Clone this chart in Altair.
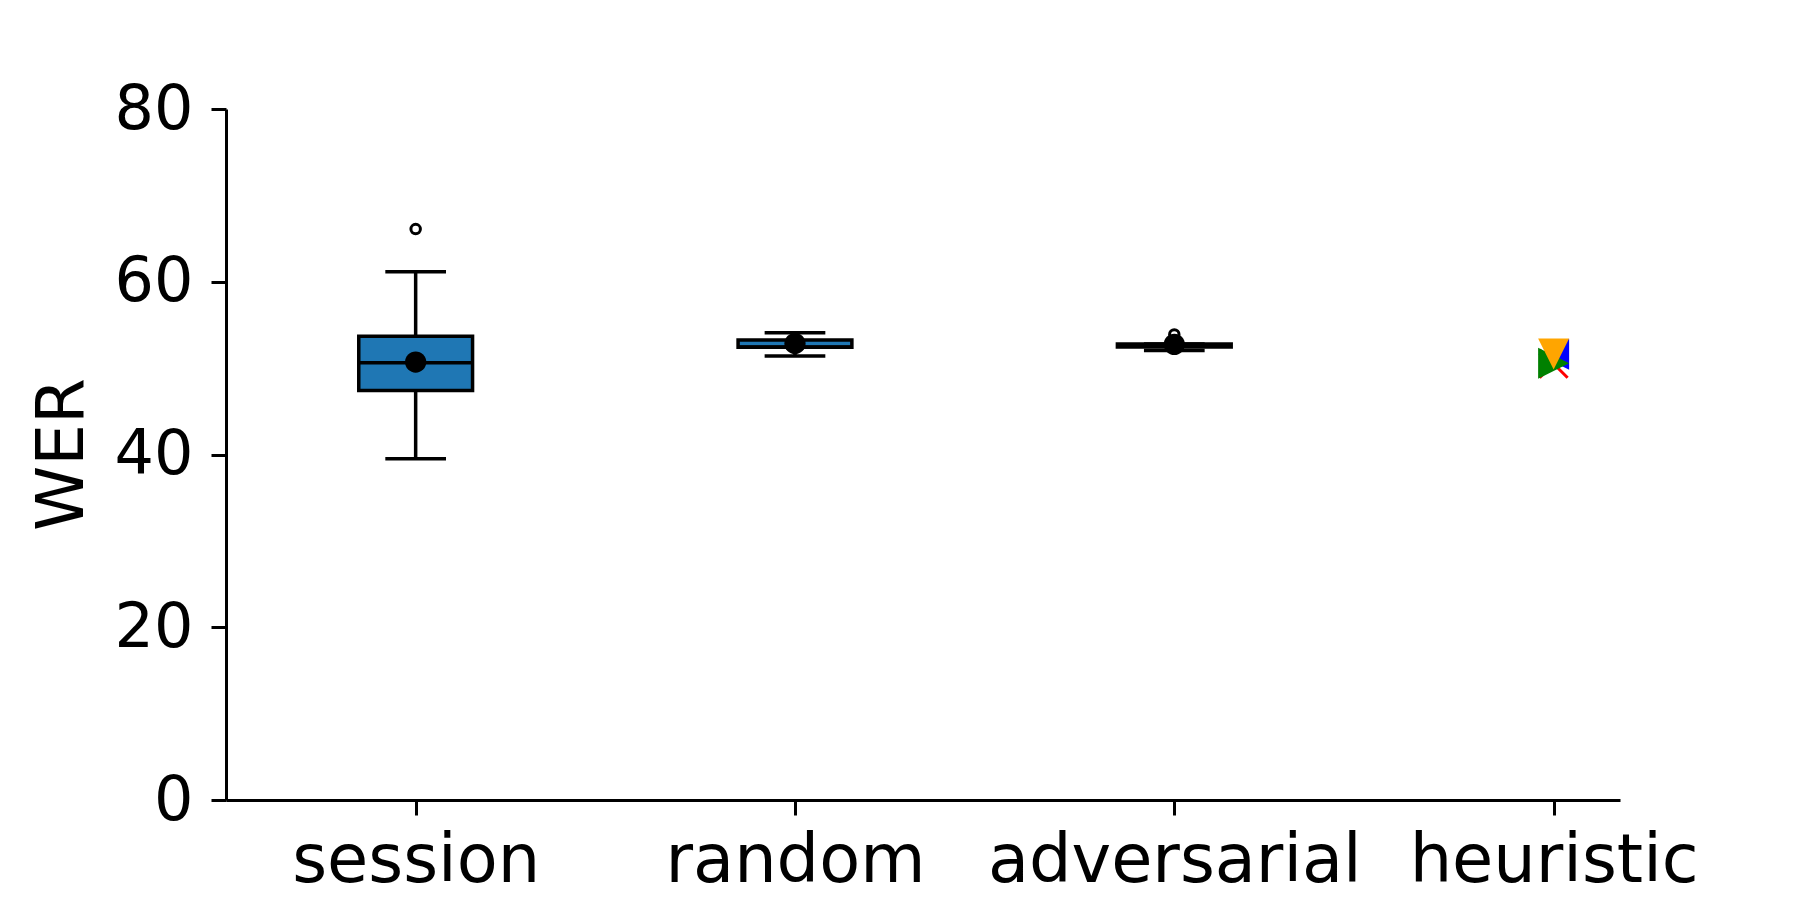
import altair as alt
import pandas as pd

# ---- data ----
categories = ["session", "random", "adversarial", "heuristic"]

box_cats = ["session", "random", "adversarial"]
q1 = [47.4, 52.41, 52.45]
q3 = [53.7, 53.26, 52.8]
medians = [50.63, 52.45, 52.6]
whislo = [39.5, 51.4, 52.05]
whishi = [61.15, 54.1, 52.8]
means = [50.7, 52.85, 52.75]

flier_cats = ["session", "adversarial"]
flier_vals = [66.1, 53.9]

heur_series = ["red", "blue", "green", "orange"]
heur_vals = [50.5, 51.6, 50.56, 51.63]

y_ticks = [0, 20, 40, 60, 80]

# ---- styles ----
FONT = "DejaVu Sans"
BOX_HALF = 0.15
CAP_HALF = 0.08
LW = 3.5
marker_shapes = {
    "red": "M-1,-1L1,1M-1,1L1,-1",
    "blue": "M-1,0L1,-1L1,1Z",
    "orange": "M-1,-1L1,-1L0,1Z",
    "green": "M1,0L-1,-1L-1,1Z",
}
marker_sizes = {"red": 784, "blue": 961, "orange": 961, "green": 961}

def pos(c):
    return categories.index(c) + 1

box_df = pd.DataFrame({
    "cat": box_cats,
    "pos": [pos(c) for c in box_cats],
    "q1": q1, "q3": q3, "med": medians,
    "lo": whislo, "hi": whishi, "mean": means,
})
flier_df = pd.DataFrame({"cat": flier_cats, "pos": [pos(c) for c in flier_cats], "val": flier_vals})
heur_df = pd.DataFrame({
    "series": heur_series,
    "pos": [pos("heuristic")] * len(heur_series),
    "val": heur_vals,
})

label_list = "[" + ",".join("'" + c + "'" for c in categories) + "]"
xscale = alt.Scale(domain=[0.5, 4.175], nice=False, zero=False)
yscale = alt.Scale(domain=[0, 80], nice=False, zero=True)

x_axis = alt.Axis(
    values=[1, 2, 3, 4], labelExpr=label_list + "[datum.value - 1]",
    title=None, grid=False, labelFontSize=67, labelPadding=13, labelLimit=2000,
    tickSize=15, labelAngle=0, labelBaseline="top", labelOverlap=False,
)
y_axis = alt.Axis(
    values=y_ticks, title="WER", grid=False, labelFontSize=62,
    tickSize=15, labelPadding=18, labelBaseline="alphabetic", labelOffset=19,
    titleFontSize=66, titleFontWeight="normal", titleAngle=270,
    titleBaseline="alphabetic", titleAlign="center", titleX=-144, titleY=345,
)

base = alt.Chart(box_df)

whisker = base.mark_rule(color="black", strokeWidth=LW).encode(
    x=alt.X("pos:Q", scale=xscale, axis=x_axis),
    y=alt.Y("lo:Q", scale=yscale, axis=y_axis),
    y2="hi:Q",
)

calc = dict(xl=f"datum.pos - {CAP_HALF}", xr=f"datum.pos + {CAP_HALF}")
cap_lo = base.transform_calculate(**calc).mark_rule(color="black", strokeWidth=LW).encode(
    x=alt.X("xl:Q", scale=xscale), x2="xr:Q", y=alt.Y("lo:Q", scale=yscale)
)
cap_hi = base.transform_calculate(**calc).mark_rule(color="black", strokeWidth=LW).encode(
    x=alt.X("xl:Q", scale=xscale), x2="xr:Q", y=alt.Y("hi:Q", scale=yscale)
)

bcalc = dict(xl=f"datum.pos - {BOX_HALF}", xr=f"datum.pos + {BOX_HALF}")
box = base.transform_calculate(**bcalc).mark_rect(
    fill="#1f77b4", stroke="black", strokeWidth=LW
).encode(
    x=alt.X("xl:Q", scale=xscale), x2="xr:Q",
    y=alt.Y("q1:Q", scale=yscale), y2="q3:Q",
)

median = base.transform_calculate(**bcalc).mark_rule(color="black", strokeWidth=LW).encode(
    x=alt.X("xl:Q", scale=xscale), x2="xr:Q", y=alt.Y("med:Q", scale=yscale)
)

fliers = alt.Chart(flier_df).mark_point(
    shape="circle", filled=False, color="black", size=90, strokeWidth=3, opacity=1
).encode(x=alt.X("pos:Q", scale=xscale), y=alt.Y("val:Q", scale=yscale))

mean_pts = base.mark_point(
    shape="circle", filled=True, color="black", size=452, opacity=1
).encode(x=alt.X("pos:Q", scale=xscale), y=alt.Y("mean:Q", scale=yscale))

heur_layers = []
for s in heur_series:
    if s != "red":
        mk = alt.Chart(heur_df).transform_filter(alt.datum.series == s).mark_point(
            shape=marker_shapes[s], filled=True, fill=s, strokeWidth=0,
            size=marker_sizes[s], opacity=1,
        )
    else:
        mk = alt.Chart(heur_df).transform_filter(alt.datum.series == s).mark_point(
            shape=marker_shapes[s], filled=False, stroke=s, strokeWidth=3,
            size=marker_sizes[s], opacity=1,
        )
    heur_layers.append(mk.encode(x=alt.X("pos:Q", scale=xscale), y=alt.Y("val:Q", scale=yscale)))

chart = alt.layer(
    whisker, cap_lo, cap_hi, box, median, fliers, mean_pts, *heur_layers
).properties(
    width=1394, height=691,
    autosize=alt.AutoSizeParams(type="none"),
    padding={"left": 218, "top": 101, "right": 170, "bottom": 105},
).configure_view(strokeWidth=0).configure_axis(
    domainColor="black", domainWidth=3, tickColor="black", tickWidth=3,
    labelColor="black", titleColor="black", labelFont=FONT, titleFont=FONT,
)

chart.save("out.html", embed_options={"renderer": "svg", "actions": False})
